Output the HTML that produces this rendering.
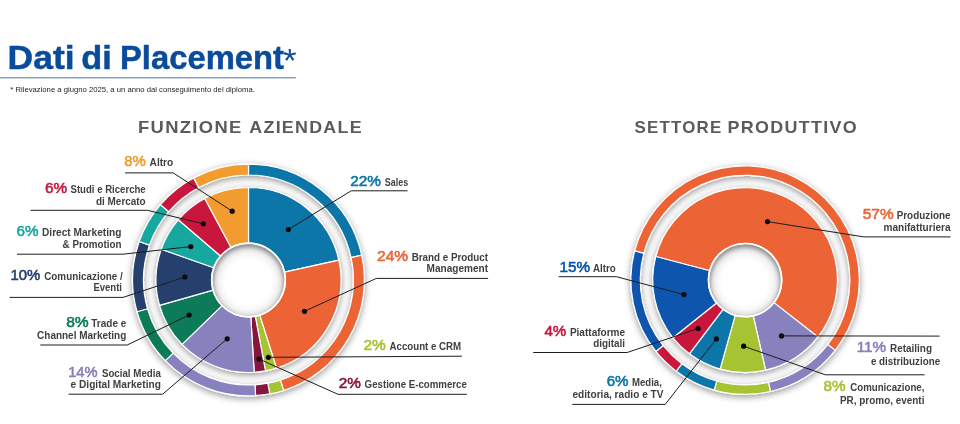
<!DOCTYPE html>
<html lang="it"><head><meta charset="utf-8"><title>Dati di Placement</title>
<style>
html,body{margin:0;padding:0;background:#fff;}
body{width:960px;height:424px;overflow:hidden;position:relative;font-family:"Liberation Sans",sans-serif;}
svg{position:absolute;left:0;top:0;display:block;font-family:"Liberation Sans",sans-serif;}
</style></head><body>
<svg width="960" height="424" viewBox="0 0 960 424">
<defs>
<filter id="sh" x="-10%" y="-10%" width="120%" height="120%">
<feGaussianBlur in="SourceAlpha" stdDeviation="3.6"/>
<feOffset dx="0" dy="2" result="b"/>
<feComponentTransfer><feFuncA type="linear" slope="0.42"/></feComponentTransfer>
<feMerge><feMergeNode/><feMergeNode in="SourceGraphic"/></feMerge>
</filter>
<radialGradient id="hole" cx="0.5" cy="0.53" r="0.5"><stop offset="0.62" stop-color="#000" stop-opacity="0"/><stop offset="0.88" stop-color="#000" stop-opacity="0.06"/><stop offset="1" stop-color="#000" stop-opacity="0.2"/></radialGradient>
</defs>
<rect width="960" height="424" fill="#fff"/>
<text y="69.3" font-size="33.8" font-weight="bold" fill="#0a4b9c" stroke="#0a4b9c" stroke-width="0.5"><tspan x="7.6" textLength="67" lengthAdjust="spacingAndGlyphs">Dati</tspan> <tspan x="81.3" textLength="30.5" lengthAdjust="spacingAndGlyphs">di</tspan> <tspan x="120" textLength="164" lengthAdjust="spacingAndGlyphs">Placement</tspan><tspan x="283" y="71.5" font-size="34" font-weight="normal" stroke="none" textLength="13.6" lengthAdjust="spacingAndGlyphs">*</tspan></text>
<rect x="0" y="77" width="295.8" height="1.4" fill="#7b9bc9"/>
<text x="10.3" y="92.3" font-size="8" fill="#1c1c1c" textLength="244.5" lengthAdjust="spacingAndGlyphs">* Rilevazione a giugno 2025, a un anno dal conseguimento del diploma.</text>
<g font-size="16.6" font-weight="bold" fill="#5b5b5d" letter-spacing="1.2">
<text y="132.6"><tspan x="138" textLength="104.6" lengthAdjust="spacingAndGlyphs">FUNZIONE</tspan> <tspan x="249.3" textLength="113.6" lengthAdjust="spacingAndGlyphs">AZIENDALE</tspan></text>
<text y="132.6"><tspan x="634.5" textLength="88" lengthAdjust="spacingAndGlyphs">SETTORE</tspan> <tspan x="727.6" textLength="130.4" lengthAdjust="spacingAndGlyphs">PRODUTTIVO</tspan></text>
</g>
<g filter="url(#sh)" stroke="#fff" stroke-width="1.2" stroke-linejoin="round"><path d="M248.50 164.10A115.9 115.9 0 0 1 361.72 255.21L351.07 257.54A105.0 105.0 0 0 0 248.50 175.00Z" fill="#0b76a8"/><path d="M361.72 255.21A115.9 115.9 0 0 1 283.64 390.45L280.33 380.06A105.0 105.0 0 0 0 351.07 257.54Z" fill="#ec6436"/><path d="M283.64 390.45A115.9 115.9 0 0 1 269.80 393.93L267.79 383.21A105.0 105.0 0 0 0 280.33 380.06Z" fill="#a6c331"/><path d="M269.80 393.93A115.9 115.9 0 0 1 255.63 395.68L254.96 384.80A105.0 105.0 0 0 0 267.79 383.21Z" fill="#86163a"/><path d="M255.63 395.68A115.9 115.9 0 0 1 165.29 360.68L173.12 353.09A105.0 105.0 0 0 0 254.96 384.80Z" fill="#8781bd"/><path d="M165.29 360.68A115.9 115.9 0 0 1 137.02 311.72L147.51 308.73A105.0 105.0 0 0 0 173.12 353.09Z" fill="#0a7a59"/><path d="M137.02 311.72A115.9 115.9 0 0 1 139.19 241.48L149.47 245.10A105.0 105.0 0 0 0 147.51 308.73Z" fill="#25406d"/><path d="M139.19 241.48A115.9 115.9 0 0 1 160.48 204.59L168.76 211.69A105.0 105.0 0 0 0 149.47 245.10Z" fill="#17a89e"/><path d="M160.48 204.59A115.9 115.9 0 0 1 193.67 177.89L198.83 187.49A105.0 105.0 0 0 0 168.76 211.69Z" fill="#c8183c"/><path d="M193.67 177.89A115.9 115.9 0 0 1 248.50 164.10L248.50 175.00A105.0 105.0 0 0 0 198.83 187.49Z" fill="#f29b2e"/></g>
<g filter="url(#sh)" stroke="#fff" stroke-width="1.2" stroke-linejoin="round"><path d="M248.50 187.50A92.5 92.5 0 0 1 338.86 260.21L284.45 272.13A36.8 36.8 0 0 0 248.50 243.20Z" fill="#0b76a8"/><path d="M338.86 260.21A92.5 92.5 0 0 1 276.54 368.15L259.66 315.07A36.8 36.8 0 0 0 284.45 272.13Z" fill="#ec6436"/><path d="M276.54 368.15A92.5 92.5 0 0 1 265.50 370.93L255.26 316.17A36.8 36.8 0 0 0 259.66 315.07Z" fill="#a6c331"/><path d="M265.50 370.93A92.5 92.5 0 0 1 254.19 372.32L250.77 316.73A36.8 36.8 0 0 0 255.26 316.17Z" fill="#86163a"/><path d="M254.19 372.32A92.5 92.5 0 0 1 182.09 344.39L222.08 305.62A36.8 36.8 0 0 0 250.77 316.73Z" fill="#8781bd"/><path d="M182.09 344.39A92.5 92.5 0 0 1 159.53 305.31L213.10 290.07A36.8 36.8 0 0 0 222.08 305.62Z" fill="#0a7a59"/><path d="M159.53 305.31A92.5 92.5 0 0 1 161.26 249.26L213.79 267.77A36.8 36.8 0 0 0 213.10 290.07Z" fill="#25406d"/><path d="M161.26 249.26A92.5 92.5 0 0 1 178.26 219.82L220.55 256.06A36.8 36.8 0 0 0 213.79 267.77Z" fill="#17a89e"/><path d="M178.26 219.82A92.5 92.5 0 0 1 204.74 198.51L231.09 247.58A36.8 36.8 0 0 0 220.55 256.06Z" fill="#c8183c"/><path d="M204.74 198.51A92.5 92.5 0 0 1 248.50 187.50L248.50 243.20A36.8 36.8 0 0 0 231.09 247.58Z" fill="#f29b2e"/></g>
<circle cx="248.5" cy="280.0" r="36.8" fill="url(#hole)" stroke="#fff" stroke-width="1.7"/>
<g filter="url(#sh)" stroke="#fff" stroke-width="1.2" stroke-linejoin="round"><path d="M634.64 250.92A114.25 114.25 0 1 1 835.17 350.39L827.72 344.58A104.8 104.8 0 1 0 643.78 253.33Z" fill="#ec6436"/><path d="M835.17 350.39A114.25 114.25 0 0 1 770.46 391.50L768.36 382.29A104.8 104.8 0 0 0 827.72 344.58Z" fill="#8781bd"/><path d="M770.46 391.50A114.25 114.25 0 0 1 714.20 390.09L716.76 380.99A104.8 104.8 0 0 0 768.36 382.29Z" fill="#a6c331"/><path d="M714.20 390.09A114.25 114.25 0 0 1 676.22 371.25L681.92 363.71A104.8 104.8 0 0 0 716.76 380.99Z" fill="#0b76a8"/><path d="M676.22 371.25A114.25 114.25 0 0 1 655.89 351.48L663.27 345.58A104.8 104.8 0 0 0 681.92 363.71Z" fill="#c8183c"/><path d="M655.89 351.48A114.25 114.25 0 0 1 634.64 250.92L643.78 253.33A104.8 104.8 0 0 0 663.27 345.58Z" fill="#0755ad"/></g>
<g filter="url(#sh)" stroke="#fff" stroke-width="1.2" stroke-linejoin="round"><path d="M655.77 256.50A92.4 92.4 0 1 1 817.94 336.95L773.95 302.62A36.6 36.6 0 1 0 709.71 270.75Z" fill="#ec6436"/><path d="M817.94 336.95A92.4 92.4 0 0 1 765.61 370.20L753.22 315.79A36.6 36.6 0 0 0 773.95 302.62Z" fill="#8781bd"/><path d="M765.61 370.20A92.4 92.4 0 0 1 720.11 369.06L735.20 315.34A36.6 36.6 0 0 0 753.22 315.79Z" fill="#a6c331"/><path d="M720.11 369.06A92.4 92.4 0 0 1 689.39 353.82L723.03 309.30A36.6 36.6 0 0 0 735.20 315.34Z" fill="#0b76a8"/><path d="M689.39 353.82A92.4 92.4 0 0 1 672.95 337.83L716.52 302.97A36.6 36.6 0 0 0 723.03 309.30Z" fill="#c8183c"/><path d="M672.95 337.83A92.4 92.4 0 0 1 655.77 256.50L709.71 270.75A36.6 36.6 0 0 0 716.52 302.97Z" fill="#0755ad"/></g>
<circle cx="745.1" cy="280.1" r="36.6" fill="url(#hole)" stroke="#fff" stroke-width="1.7"/>
<g fill="none" stroke="#1d1d1f" stroke-width="1" stroke-linejoin="round">
<polyline points="125.1,172.9 173.2,172.9 232.2,211.2"/>
<polyline points="30.6,210.3 147.4,210.3 203.4,223.8"/>
<polyline points="17.0,254.2 123.0,254.2 190.8,246.6"/>
<polyline points="9.6,297.4 123.0,297.4 184.9,277.0"/>
<polyline points="40.3,345.0 127.2,345.0 189.1,315.0"/>
<polyline points="68.6,394.2 162.6,394.2 227.2,338.8"/>
<polyline points="288.3,229.6 351.2,190.8 407.5,190.8"/>
<polyline points="304.5,311.3 376.3,278.4 488.1,278.4"/>
<polyline points="268.4,357.3 461.8,356.2"/>
<polyline points="259.1,359.1 338.0,394.3 466.9,394.3"/>
<polyline points="767.5,221.6 863.6,236.9 950.5,236.9"/>
<polyline points="781.5,335.9 939.6,336.1"/>
<polyline points="743.6,346.2 825.3,374.8 924.6,374.8"/>
<polyline points="572.3,404.4 665.2,404.4 716.4,338.9"/>
<polyline points="533.2,352.5 627.2,352.5 698.1,328.5"/>
<polyline points="558.7,276.7 616.4,276.7 683.9,294.6"/>
</g>
<g fill="#0a0a0a">
<circle cx="232.2" cy="211.2" r="2.6"/>
<circle cx="203.4" cy="223.8" r="2.6"/>
<circle cx="190.8" cy="246.6" r="2.6"/>
<circle cx="184.9" cy="277.0" r="2.6"/>
<circle cx="189.1" cy="315.0" r="2.6"/>
<circle cx="227.2" cy="338.8" r="2.6"/>
<circle cx="288.3" cy="229.6" r="2.6"/>
<circle cx="304.5" cy="311.3" r="2.6"/>
<circle cx="268.4" cy="357.3" r="2.6"/>
<circle cx="259.1" cy="359.1" r="2.6"/>
<circle cx="767.5" cy="221.6" r="2.6"/>
<circle cx="781.5" cy="335.9" r="2.6"/>
<circle cx="743.6" cy="346.2" r="2.6"/>
<circle cx="716.4" cy="338.9" r="2.6"/>
<circle cx="698.1" cy="328.5" r="2.6"/>
<circle cx="683.9" cy="294.6" r="2.6"/>
</g>
<g font-size="10.1" font-weight="bold" fill="#3f3f41">
<text><tspan x="124.2" y="165.8" font-size="14" font-weight="normal" textLength="21.6" lengthAdjust="spacingAndGlyphs" fill="#f29b2e" stroke="#f29b2e" stroke-width="0.55">8%</tspan> <tspan x="149.6" y="165.8" textLength="23.6" lengthAdjust="spacingAndGlyphs">Altro</tspan></text>
<text><tspan x="45.0" y="193.3" font-size="14" font-weight="normal" textLength="22.1" lengthAdjust="spacingAndGlyphs" fill="#c8183c" stroke="#c8183c" stroke-width="0.55">6%</tspan> <tspan x="70.5" y="193.3" textLength="75.2" lengthAdjust="spacingAndGlyphs">Studi e Ricerche</tspan> <tspan x="96.0" y="205.0" textLength="49.7" lengthAdjust="spacingAndGlyphs">di Mercato</tspan></text>
<text><tspan x="16.6" y="236.4" font-size="14" font-weight="normal" textLength="22.0" lengthAdjust="spacingAndGlyphs" fill="#17a89e" stroke="#17a89e" stroke-width="0.55">6%</tspan> <tspan x="42.0" y="236.4" textLength="79.4" lengthAdjust="spacingAndGlyphs">Direct Marketing</tspan> <tspan x="62.6" y="248.0" textLength="58.8" lengthAdjust="spacingAndGlyphs">&amp; Promotion</tspan></text>
<text><tspan x="10.6" y="279.7" font-size="14" font-weight="normal" textLength="29.7" lengthAdjust="spacingAndGlyphs" fill="#25406d" stroke="#25406d" stroke-width="0.55">10%</tspan> <tspan x="44.2" y="279.7" textLength="78.5" lengthAdjust="spacingAndGlyphs">Comunicazione /</tspan> <tspan x="93.4" y="290.8" textLength="28.6" lengthAdjust="spacingAndGlyphs">Eventi</tspan></text>
<text><tspan x="66.2" y="327.2" font-size="14" font-weight="normal" textLength="22.5" lengthAdjust="spacingAndGlyphs" fill="#0a7a59" stroke="#0a7a59" stroke-width="0.55">8%</tspan> <tspan x="91.3" y="327.2" textLength="35.0" lengthAdjust="spacingAndGlyphs">Trade e</tspan> <tspan x="37.1" y="338.6" textLength="89.2" lengthAdjust="spacingAndGlyphs">Channel Marketing</tspan></text>
<text><tspan x="68.2" y="377.2" font-size="14" font-weight="normal" textLength="29.4" lengthAdjust="spacingAndGlyphs" fill="#8781bd" stroke="#8781bd" stroke-width="0.55">14%</tspan> <tspan x="101.9" y="377.2" textLength="59.0" lengthAdjust="spacingAndGlyphs">Social Media</tspan> <tspan x="70.5" y="387.9" textLength="90.4" lengthAdjust="spacingAndGlyphs">e Digital Marketing</tspan></text>
<text><tspan x="350.2" y="185.5" font-size="14" font-weight="normal" textLength="30.7" lengthAdjust="spacingAndGlyphs" fill="#0b76a8" stroke="#0b76a8" stroke-width="0.55">22%</tspan> <tspan x="384.8" y="185.5" textLength="23.3" lengthAdjust="spacingAndGlyphs">Sales</tspan></text>
<text><tspan x="377.1" y="260.8" font-size="14" font-weight="normal" textLength="31.0" lengthAdjust="spacingAndGlyphs" fill="#ec6436" stroke="#ec6436" stroke-width="0.55">24%</tspan> <tspan x="411.7" y="260.8" textLength="76.4" lengthAdjust="spacingAndGlyphs">Brand e Product</tspan> <tspan x="426.6" y="272.0" textLength="61.5" lengthAdjust="spacingAndGlyphs">Management</tspan></text>
<text><tspan x="363.5" y="350.1" font-size="14" font-weight="normal" textLength="22.3" lengthAdjust="spacingAndGlyphs" fill="#a6c331" stroke="#a6c331" stroke-width="0.55">2%</tspan> <tspan x="389.6" y="350.1" textLength="71.6" lengthAdjust="spacingAndGlyphs">Account e CRM</tspan></text>
<text><tspan x="338.7" y="388.4" font-size="14" font-weight="normal" textLength="22.1" lengthAdjust="spacingAndGlyphs" fill="#86163a" stroke="#86163a" stroke-width="0.55">2%</tspan> <tspan x="364.6" y="388.4" textLength="102.3" lengthAdjust="spacingAndGlyphs">Gestione E-commerce</tspan></text>
<text><tspan x="862.8" y="218.8" font-size="14" font-weight="normal" textLength="30.8" lengthAdjust="spacingAndGlyphs" fill="#ec6436" stroke="#ec6436" stroke-width="0.55">57%</tspan> <tspan x="896.7" y="218.8" textLength="53.8" lengthAdjust="spacingAndGlyphs">Produzione</tspan> <tspan x="883.6" y="230.9" textLength="66.9" lengthAdjust="spacingAndGlyphs">manifatturiera</tspan></text>
<text><tspan x="856.8" y="351.6" font-size="14" font-weight="normal" textLength="29.3" lengthAdjust="spacingAndGlyphs" fill="#8781bd" stroke="#8781bd" stroke-width="0.55">11%</tspan> <tspan x="890.0" y="352.0" textLength="42.0" lengthAdjust="spacingAndGlyphs">Retailing</tspan> <tspan x="870.9" y="365.2" textLength="69.3" lengthAdjust="spacingAndGlyphs">e distribuzione</tspan></text>
<text><tspan x="823.5" y="390.9" font-size="14" font-weight="normal" textLength="22.1" lengthAdjust="spacingAndGlyphs" fill="#a6c331" stroke="#a6c331" stroke-width="0.55">8%</tspan> <tspan x="850.3" y="391.3" textLength="74.1" lengthAdjust="spacingAndGlyphs">Comunicazione,</tspan> <tspan x="840.0" y="403.8" textLength="84.4" lengthAdjust="spacingAndGlyphs">PR, promo, eventi</tspan></text>
<text><tspan x="606.7" y="386.3" font-size="14" font-weight="normal" textLength="21.8" lengthAdjust="spacingAndGlyphs" fill="#0b76a8" stroke="#0b76a8" stroke-width="0.55">6%</tspan> <tspan x="632.1" y="386.3" textLength="29.7" lengthAdjust="spacingAndGlyphs">Media,</tspan> <tspan x="572.5" y="398.0" textLength="91.0" lengthAdjust="spacingAndGlyphs">editoria, radio e TV</tspan></text>
<text><tspan x="544.4" y="335.5" font-size="14" font-weight="normal" textLength="21.9" lengthAdjust="spacingAndGlyphs" fill="#c8183c" stroke="#c8183c" stroke-width="0.55">4%</tspan> <tspan x="569.9" y="335.5" textLength="55.2" lengthAdjust="spacingAndGlyphs">Piattaforme</tspan> <tspan x="593.2" y="346.8" textLength="31.9" lengthAdjust="spacingAndGlyphs">digitali</tspan></text>
<text><tspan x="559.5" y="271.8" font-size="14" font-weight="normal" textLength="30.4" lengthAdjust="spacingAndGlyphs" fill="#0755ad" stroke="#0755ad" stroke-width="0.55">15%</tspan> <tspan x="593.1" y="271.8" textLength="22.7" lengthAdjust="spacingAndGlyphs">Altro</tspan></text>
</g>
</svg>
</body></html>
